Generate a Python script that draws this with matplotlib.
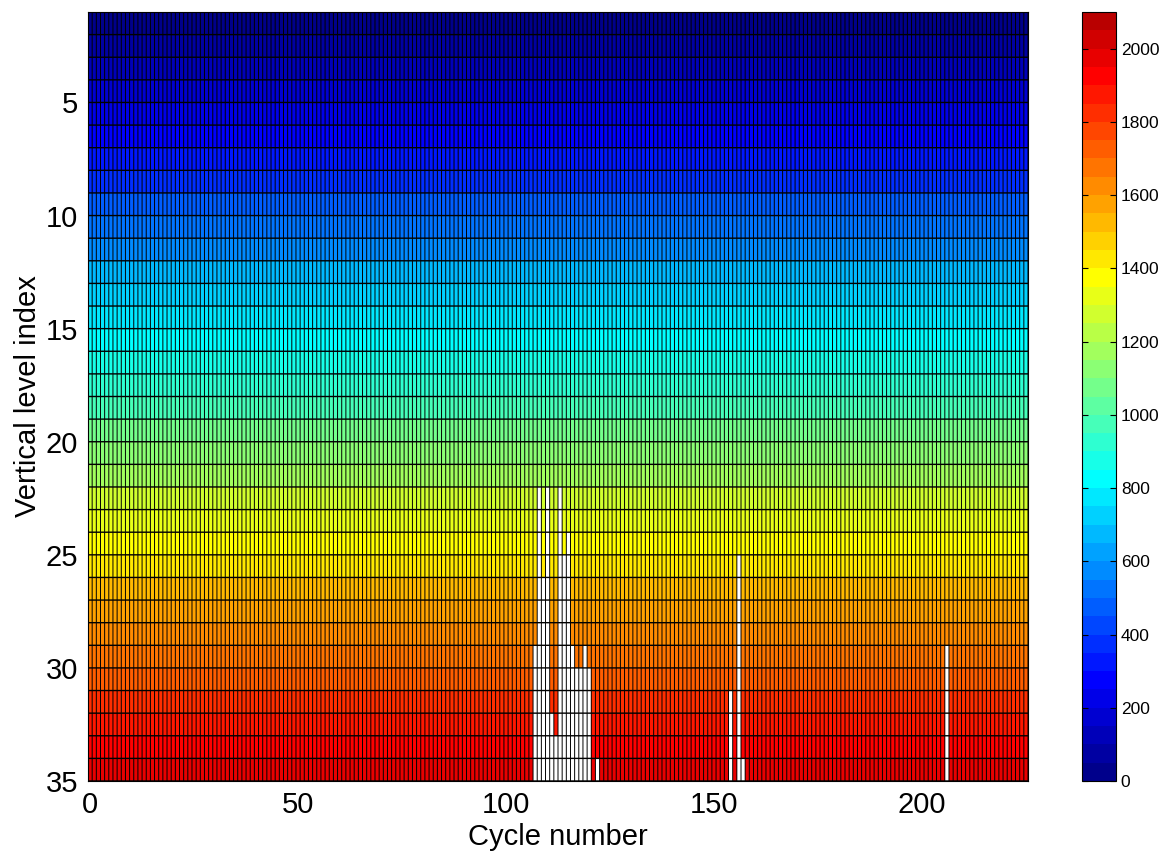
import numpy as np
import matplotlib
matplotlib.use('Agg')
import matplotlib.pyplot as plt
from matplotlib.colors import ListedColormap

plt.rcParams['font.family'] = ['Liberation Sans', 'DejaVu Sans']

# cycle numbers (x) and vertical level edges (y)
cycles = np.arange(0, 226)
level_edges = np.arange(1, 36)

# value of each vertical level (rows 1..34)
level_value = [10, 60, 110, 160, 210, 260, 320, 380, 450, 520,
               590, 660, 720, 780, 825, 880, 935, 990, 1050, 1110,
               1170, 1260, 1320, 1380, 1440, 1500, 1560, 1620, 1680, 1740,
               1800, 1860, 1920, 1980]

# cycles with missing data, and the first level from which data is missing
gap_cycles = [107, 108, 109, 110, 111, 112, 113, 114, 115, 116,
              117, 118, 119, 120, 122, 154, 156, 157, 206]
gap_first_level = [29, 22, 26, 22, 32, 33, 22, 25, 24, 29,
                   30, 30, 29, 30, 34, 31, 25, 34, 29]


def matlab_jet(m):
    # same construction as MATLAB's jet(m)
    n = int(np.ceil(m / 4))
    u = np.concatenate([np.arange(1, n + 1) / n, np.ones(n - 1), np.arange(n, 0, -1) / n])
    g = int(np.ceil(n / 2)) - (1 if m % 4 == 1 else 0) + np.arange(1, len(u) + 1)
    r = g + n
    b = g - n
    J = np.zeros((m, 3))
    J[r[r <= m] - 1, 0] = u[r <= m]
    J[g[g <= m] - 1, 1] = u[g <= m]
    J[b[b >= 1] - 1, 2] = u[b >= 1]
    return ListedColormap(J)


Z = np.tile(np.array(level_value, dtype=float)[:, None], (1, len(cycles)))
for c, lev in zip(gap_cycles, gap_first_level):
    Z[lev - 1:, c] = np.nan

x_edges = np.append(cycles - 0.5, cycles[-1] + 0.5)

cmap = matlab_jet(42)
cmap.set_bad('white')

fig = plt.figure(figsize=(11.66, 8.57), dpi=100)
ax = fig.add_axes([88 / 1166, 1 - 781 / 857, 940 / 1166, 769 / 857])
cax = fig.add_axes([1082 / 1166, 1 - 781 / 857, 34 / 1166, 769 / 857])

mesh = ax.pcolormesh(x_edges, level_edges, np.ma.masked_invalid(Z),
                     cmap=cmap, vmin=0, vmax=2100)

# cell edges (drawn unsnapped so the thin lines look even)
ax.vlines(x_edges, 1, 35, colors='k', linewidth=0.7, snap=False, antialiased=True)
ax.hlines(level_edges, x_edges[0], x_edges[-1], colors='k', linewidth=1.0,
          snap=False, antialiased=True)

ax.set_xlim(x_edges[0], x_edges[-1])
ax.set_ylim(35, 1)
ax.set_xticks([0, 50, 100, 150, 200])
ax.set_yticks([5, 10, 15, 20, 25, 30, 35])
ax.tick_params(length=0, labelsize=21, pad=7)
ax.set_xlabel('Cycle number', fontsize=21, labelpad=3)
ax.set_ylabel('Vertical level index', fontsize=21, labelpad=3)
for s in ax.spines.values():
    s.set_linewidth(0.8)

cb = fig.colorbar(mesh, cax=cax, ticks=range(0, 2001, 200))
cb.ax.tick_params(direction='in', length=4, width=0.8, labelsize=12.5,
                  left=True, right=True)
cb.outline.set_linewidth(0.8)

fig.savefig('out.png', dpi=100)
